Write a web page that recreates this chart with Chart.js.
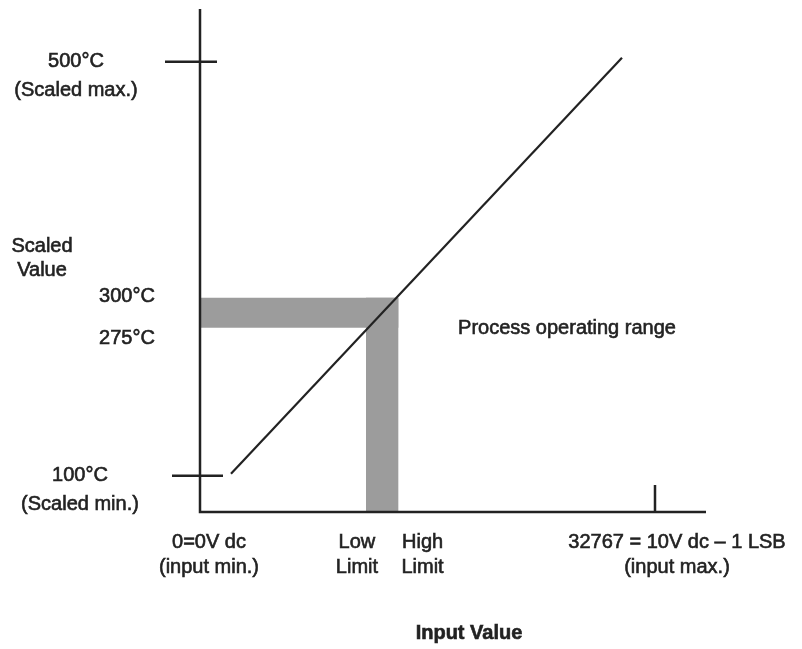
<!DOCTYPE html>
<html>
<head>
<meta charset="utf-8">
<script src="https://cdn.jsdelivr.net/npm/chart.js@4"></script>
<style>
  html, body { margin: 0; padding: 0; background: #fff; }
  #wrap { width: 802px; height: 649px; }
</style>
</head>
<body>
<div id="wrap"><canvas id="chart" width="802" height="649"></canvas></div>
<script>
// 入力値 (カウント 0 .. 32767)
const inputMax = 32767;
const xAxisEnd = 36440;
const lowLimit = 11950;
const highLimit = 14300;

// スケール値 (図は等倍ではないので位置は図から読んだ値)
const yAxisMin = 65;
const yAxisMax = 551;
const scaledMin = 100;
const scaledMax = 500;
const bandLow = 243;
const bandHigh = 272;

// 変換直線
const lineX = [2232, 30390];
const lineY = [102, 504];

// ラベル
const yTickLabels = [['500°C', '(Scaled max.)'], ['300°C'], ['275°C'], ['100°C', '(Scaled min.)']];
const yTickLevels = [500, 273, 233, 100];
const xTickLabels = [['0=0V dc', '(input min.)'], ['Low', 'Limit'], ['High', 'Limit'], ['32767 = 10V dc – 1 LSB', '(input max.)']];
const xTickValues = [0, lowLimit, highLimit, inputMax];

const BAND_COLOR = '#9c9c9c';
const INK = '#222222';
const FONT = '"Liberation Sans", Arial, sans-serif';

// 文字を少し太めに描く (スキャン原稿っぽく)
const drawText = (ctx, t, x, y) => {
    ctx.strokeText(t, x, y);
    ctx.fillText(t, x, y);
};

// 軸・目盛り・文字を描くプラグイン
const diagramPlugin = {
    id: 'diagram',
    afterDatasetsDraw(chart) {
        const { ctx, scales: { x, y } } = chart;
        const x0 = x.getPixelForValue(0);
        const y0 = y.getPixelForValue(yAxisMin);

        ctx.save();
        ctx.strokeStyle = INK;
        ctx.lineWidth = 2.5;
        ctx.beginPath();
        ctx.moveTo(x0, y.getPixelForValue(yAxisMax));
        ctx.lineTo(x0, y0);
        ctx.lineTo(x.getPixelForValue(xAxisEnd), y0);

        // 目盛り
        const yMaxPx = y.getPixelForValue(scaledMax);
        ctx.moveTo(x0 - 35, yMaxPx);
        ctx.lineTo(x0 + 17, yMaxPx);
        const yMinPx = y.getPixelForValue(scaledMin);
        ctx.moveTo(x0 - 28, yMinPx);
        ctx.lineTo(x0 + 23, yMinPx);
        const xMaxPx = x.getPixelForValue(inputMax);
        ctx.moveTo(xMaxPx, y0);
        ctx.lineTo(xMaxPx, y0 - 27);
        ctx.stroke();

        ctx.fillStyle = INK;
        ctx.lineWidth = 0.6;
        ctx.font = '20px ' + FONT;
        ctx.textAlign = 'center';
        ctx.textBaseline = 'middle';

        // 縦軸ラベル
        const yLabelX = [76, 127, 127, 80];
        yTickLabels.forEach((lines, i) => {
            const py = y.getPixelForValue(yTickLevels[i]);
            lines.forEach((t, j) => drawText(ctx, t, yLabelX[i], py + j * 29));
        });
        drawText(ctx, 'Scaled', 42, 246);
        drawText(ctx, 'Value', 42, 270);

        // 横軸ラベル
        const xLabelDx = [9, -9, 24, 22];
        xTickLabels.forEach((lines, i) => {
            const px = x.getPixelForValue(xTickValues[i]) + xLabelDx[i];
            lines.forEach((t, j) => drawText(ctx, t, px, y0 + 30 + j * 25));
        });

        drawText(ctx, 'Process operating range', 567, 328);

        ctx.font = 'bold 20px ' + FONT;
        drawText(ctx, 'Input Value', 469, 633);
        ctx.restore();
    }
};

const ctx = document.getElementById('chart').getContext('2d');
new Chart(ctx, {
    type: 'line',
    data: {
        datasets: [
            {
                // 変換直線 (帯の上に描く)
                data: lineX.map((v, i) => ({ x: v, y: lineY[i] })),
                borderColor: INK,
                borderWidth: 2.2,
                pointRadius: 0,
                fill: false,
                order: 0
            },
            {
                // 縦の帯 (Low〜High Limit)
                data: [{ x: lowLimit, y: bandHigh }, { x: highLimit, y: bandHigh }],
                borderWidth: 0,
                pointRadius: 0,
                backgroundColor: BAND_COLOR,
                fill: 'start',
                order: 1
            },
            {
                // 横の帯 (275〜300°C)
                data: [{ x: 0, y: bandHigh }, { x: highLimit, y: bandHigh }],
                borderWidth: 0,
                pointRadius: 0,
                backgroundColor: BAND_COLOR,
                fill: { value: bandLow },
                order: 2
            }
        ]
    },
    options: {
        responsive: false,
        animation: false,
        layout: { padding: { left: 200, right: 96, top: 9, bottom: 137 } },
        plugins: {
            legend: { display: false },
            tooltip: { enabled: false }
        },
        scales: {
            x: { type: 'linear', display: false, min: 0, max: xAxisEnd },
            y: { type: 'linear', display: false, min: yAxisMin, max: yAxisMax }
        }
    },
    plugins: [diagramPlugin]
});
</script>
</body>
</html>
